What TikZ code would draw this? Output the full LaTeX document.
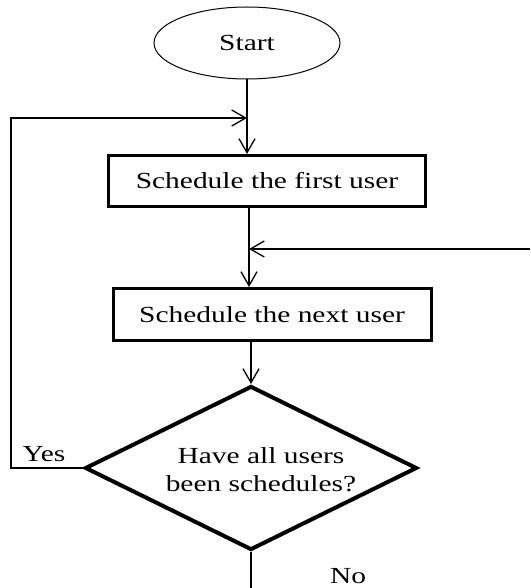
\documentclass[tikz,border=0pt]{standalone}
\usepackage{fontspec}
\usetikzlibrary{arrows.meta,shapes.geometric}
\newfontfamily\chartfont[FakeStretch=1.28]{Liberation Serif}
\tikzset{
  box/.style={draw,rectangle,line width=3pt,inner sep=0pt},
  link/.style={draw,line width=1.3pt}
}

\begin{document}
\begin{tikzpicture}[line cap=butt,line join=miter,>={Straight Barb[length=14pt,width=16pt]},x=1pt,y=-1pt,font=\chartfont\fontsize{23}{28}\selectfont]
        \useasboundingbox (0,0) rectangle (530,588);
        \node[draw,ellipse,line width=1pt,minimum width=186pt,minimum height=72pt] (start) at (247,43) {Start};
        \node[box,minimum width=317pt,minimum height=51pt] (first) at (267,181) {Schedule the first user};
        \node[box,minimum width=318pt,minimum height=52pt] (next) at (272,314.5) {Schedule the next user};
        \node[draw,diamond,line width=4pt,aspect=2,inner sep=0pt,minimum width=332pt,minimum height=164pt] (test) at (251,468) {};
        \node[align=center] (ask) at (261,470) {Have all users\\been schedules?};
        \coordinate (join1) at (247,118);
        \coordinate (join2) at (249,249);
        \coordinate (feed) at (530,249);
        \coordinate (back) at (11,0);
        \coordinate (exit) at (251,588);
        \draw[link,->] (start.south) -- (start.south |- first.north);
        \draw[link,->] (test.west) -- (test.west -| back) |- (join1);
        \draw[link,->] (join2 |- first.south) -- (join2 |- next.north);
        \draw[link,->] (feed) -- (join2);
        \draw[link,->] (next.south -| test.north) -- (test.north);
        \draw[link] (test.south) -- (exit);
        \node (yes) at (44,454) {Yes};
        \node (no) at (348,576) {No};
    \end{tikzpicture}
\end{document}
